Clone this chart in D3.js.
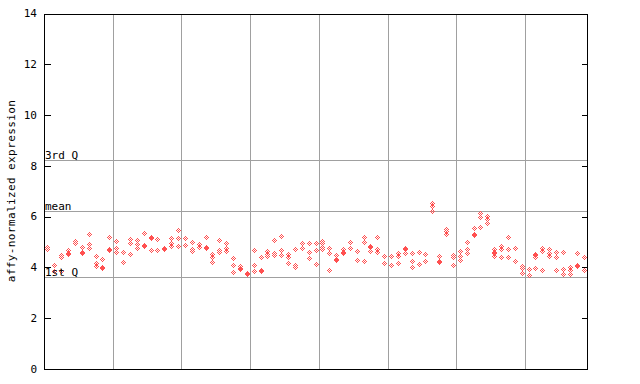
<!DOCTYPE html>
<html><head><meta charset="utf-8">
<script src="https://cdn.jsdelivr.net/npm/d3@7"></script>
<style>body{margin:0;background:#fff}svg{display:block}text{font-family:"DejaVu Sans Mono",monospace;font-size:11px;fill:#000}</style>
</head><body><svg id="c" width="640" height="384"></svg>
<script>
const yTicks = [0, 2, 4, 6, 8, 10, 12, 14];
const yLabel = "affy-normalized expression";
const refNames = ["3rd Q", "mean", "1st Q"];
const refValues = [8.22, 6.22, 3.63];
const groupSize = 10;
const samples = [
[4.80,4.72],[4.09,3.86],[4.49,4.41,3.86],[4.69,4.57,4.53],[5.04,4.98],
[4.80,4.59,4.55],[5.31,4.92,4.76],[4.45,4.17,4.06],[4.33,4.02,3.98],[5.20,4.72,4.68],
[5.04,4.76,4.61],[4.61,4.21],[5.12,4.96,4.53],[5.08,4.92,4.76],[5.35,4.88,4.84],
[5.20,5.14,4.69],[5.12,4.69],[4.78,4.74],[5.16,4.96,4.84],[5.47,5.16,4.84],
[5.16,4.88],[5.00,4.71,4.65],[4.92,4.80],[5.20,4.82,4.76],[4.53,4.41,4.21],
[5.08,4.69,4.61],[4.96,4.76,4.65],[4.37,4.09,3.82],[4.06,3.98,3.94],[3.80,3.76],
[4.69,4.09,3.86],[4.41,3.90,3.84],[4.65,4.53,4.45],[5.08,4.57,4.49],[5.24,4.69,4.49],
[4.53,4.41,4.17],[4.72,4.09,4.02],[4.96,4.76],[4.96,4.61,4.37],[4.96,4.69,4.13],
[5.04,4.96,4.80,4.72],[4.76,4.57,3.90],[4.49,4.33,4.29],[4.72,4.61,4.57],[5.00,4.76],
[4.65,4.29],[5.20,5.00,4.25],[4.86,4.82,4.65],[5.20,4.71,4.61],[4.45,4.17],
[4.45,4.09],[4.57,4.45,4.17],[4.78,4.74,4.57],[4.57,4.25,4.02],[4.61,4.13],
[4.53,4.25],[6.54,6.42,6.22],[4.45,4.27,4.23],[5.51,5.45,5.31],[4.47,4.43,4.09],
[4.65,4.45,4.29],[5.00,4.72,4.57],[5.55,5.31,5.28],[6.14,5.98,5.59],[6.02,5.91,5.75],
[4.72,4.59,4.55,4.45],[4.84,4.72,4.41],[5.20,4.72,4.41],[4.76,4.25],[4.06,3.98,3.78],
[3.94,3.70],[4.53,4.47,4.43,3.98],[4.76,4.65,3.90],[4.72,4.57,4.45],[4.61,4.41,3.90],
[4.61,3.94,3.74],[4.02,3.90,3.74],[4.57,4.11,4.04],[4.41,3.90]
];

const svg = d3.select("#c");
const L = 44, R = 587, T = 13.5, B = 369;
const x = d3.scaleBand().domain(d3.range(samples.length)).range([L, R]).paddingInner(0).paddingOuter(0);
const y = d3.scaleLinear().domain([0, 14]).range([B, T]);
const g = svg.append("g").attr("shape-rendering", "crispEdges");

// vertical group grid lines
const vlines = d3.range(groupSize, samples.length, groupSize).map(i => Math.round(x(i)) + 0.5);
g.selectAll(".vg").data(vlines).join("line")
  .attr("x1", d => d).attr("x2", d => d).attr("y1", T).attr("y2", B)
  .attr("stroke", "#a0a0a0");

// reference lines
g.selectAll(".rl").data(refValues).join("line")
  .attr("x1", L).attr("x2", R).attr("y1", d => Math.round(y(d)) + 0.5).attr("y2", d => Math.round(y(d)) + 0.5)
  .attr("stroke", "#a0a0a0");

// points as dithered diamonds
const offs = [];
for (let dy = -2; dy <= 2; dy++) for (let dx = -2; dx <= 2; dx++)
  if (Math.abs(dx) + Math.abs(dy) <= 2 && ((dx + dy) % 2 === 0)) offs.push([dx, dy]);
let p = "";
samples.forEach((vals, i) => {
  const cx = Math.round(x(i) + x.bandwidth() / 2);
  vals.forEach(v => {
    const cy = Math.round(y(v));
    offs.forEach(([dx, dy]) => { p += `M${cx+dx},${cy+dy}h1v1h-1z`; });
  });
});
g.append("path").attr("d", p).attr("fill", "#ff5050");

// axes (frame, inward ticks)
const yAxisL = d3.axisRight(y).tickValues(yTicks).tickSize(6).tickFormat("");
const yAxisR = d3.axisLeft(y).tickValues(yTicks).tickSize(6).tickFormat("");
const aL = svg.append("g").attr("transform", `translate(${L + 0.5},0)`).call(yAxisL);
const aR = svg.append("g").attr("transform", `translate(${R + 0.5},0)`).call(yAxisR);
[aL, aR].forEach(a => { a.selectAll("path").remove(); a.selectAll("line").attr("stroke", "#000").attr("shape-rendering", "crispEdges"); });
g.append("rect").attr("x", L + 0.5).attr("y", Math.round(T) + 0.5).attr("width", R - L).attr("height", B - Math.round(T))
  .attr("fill", "none").attr("stroke", "#000");

// tick labels
svg.selectAll(".tl").data(yTicks).join("text")
  .attr("x", 37).attr("y", d => y(d)).attr("dy", "0.35em").attr("text-anchor", "end").text(d => d);

// reference labels
svg.selectAll(".rt").data(refValues).join("text")
  .attr("x", L + 1).attr("y", d => Math.round(y(d)) - 1).text((d, i) => refNames[i]);

// y label
svg.append("text").attr("transform", "translate(15,191) rotate(-90)").attr("text-anchor", "middle")
  .attr("letter-spacing", "0.4px").text(yLabel);
</script></body></html>
